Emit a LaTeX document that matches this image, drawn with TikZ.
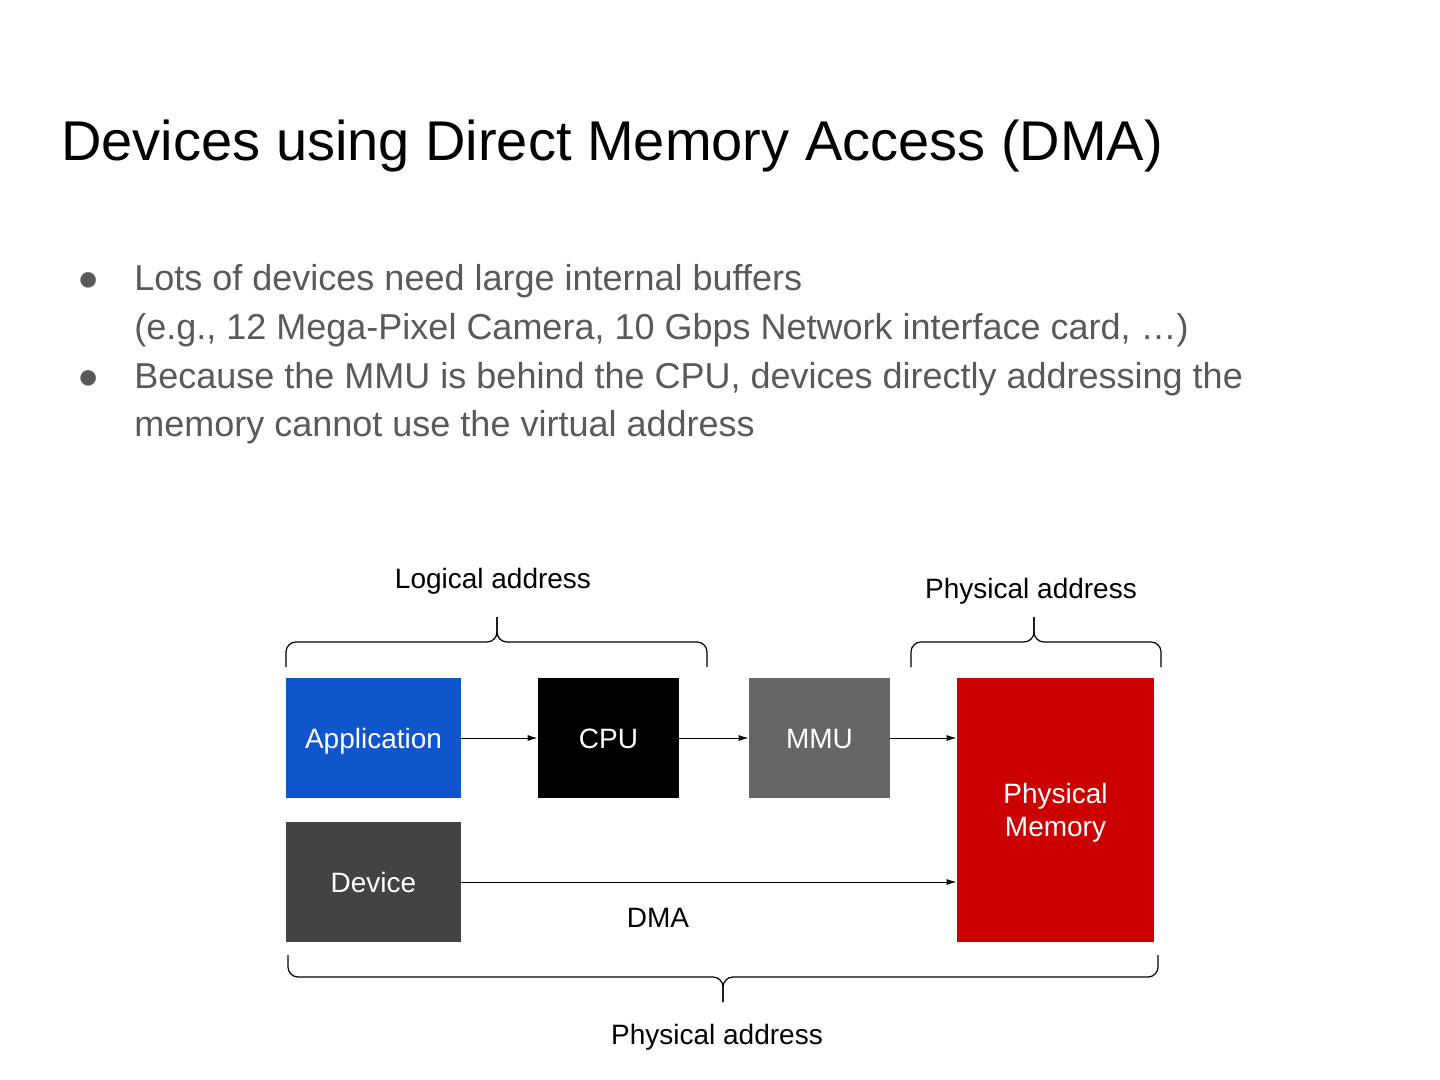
\documentclass[tikz,border=0pt]{standalone}
\usepackage{fontspec}
\setmainfont{Liberation Sans}
\usetikzlibrary{arrows.meta}
\definecolor{appblue}{HTML}{1155CC}
\definecolor{mmugray}{HTML}{666666}
\definecolor{devgray}{HTML}{434343}
\definecolor{memred}{HTML}{CC0000}
\definecolor{bodygray}{HTML}{595959}
\begin{document}
\begin{tikzpicture}[x=0.5pt,y=-0.5pt,
    box/.style={inner sep=0pt, text=white, font=\fontsize{14}{16.5}\selectfont, minimum height=60pt, align=center, text height=12.6pt, text depth=2.6pt},
    lbl/.style={inner sep=0pt, anchor=base, font=\fontsize{14}{16.5}\selectfont},
    body/.style={inner sep=0pt, anchor=base west, text=bodygray, font=\fontsize{18}{22}\selectfont},
    link/.style={-{Latex[length=5pt,width=3pt]}, line width=0.5pt},
    brc/.style={rounded corners=5pt, line width=0.6pt}]
                \useasboundingbox (0,0) rectangle (1440,1080);

                % タイトル
                \node[inner sep=0pt, anchor=base west, font=\fontsize{28}{34}\selectfont] at (61,161) (title) {Devices using Direct Memory Access (DMA)};

                % 箇条書き
                \node[body] at (77,291) (b1) {●};
                \node[body] at (134,291) (l1) {Lots of devices need large internal buffers};
                \node[body] at (134,340) (l2) {(e.g., 12 Mega-Pixel Camera, 10 Gbps Network interface card, …)};
                \node[body] at (77,389) (b2) {●};
                \node[body] at (134,389) (l3) {Because the MMU is behind the CPU, devices directly addressing the};
                \node[body] at (134,437) (l4) {memory cannot use the virtual address};

                % ブロック
                \node[box, fill=appblue, minimum width=87.5pt] at (373.5,738) (app) {Application};
                \node[box, fill=black, minimum width=70.5pt] at (608.5,738) (cpu) {CPU};
                \node[box, fill=mmugray, minimum width=70.5pt] at (819.5,738) (mmu) {MMU};
                \node[box, fill=devgray, minimum width=87.5pt] at (373.5,882) (dev) {Device};
                \node[box, fill=memred, minimum width=98.5pt, minimum height=132pt, text height=, text depth=0pt] at (1055.5,810) (mem) {Physical\\Memory};

                % 矢印
                \draw[link] (app) -- (cpu);
                \draw[link] (cpu) -- (mmu);
                \draw[link] (mmu.east) -- (mmu.east -| mem.west);
                \draw[link] (dev.east) -- (dev.east -| mem.west);
                \node[lbl] at (658,927) (dma) {DMA};

                % 括弧
                \coordinate (la) at (286,667);
                \coordinate (lb) at (707,667);
                \coordinate (lt) at (497,617);
                \coordinate (pa) at (911,667);
                \coordinate (pb) at (1161,667);
                \coordinate (pt) at (1034,617);
                \coordinate (qa) at (288,955);
                \coordinate (qb) at (1158,955);
                \coordinate (qt) at (723,1002);
                \draw[brc] (la) |- ([yshift=-12.5pt]lt) -- (lt);
                \draw[brc] (lb) |- ([yshift=-12.5pt]lt) -- (lt);
                \draw[brc] (pa) |- ([yshift=-12.5pt]pt) -- (pt);
                \draw[brc] (pb) |- ([yshift=-12.5pt]pt) -- (pt);
                \draw[brc] (qa) |- ([yshift=12.5pt]qt) -- (qt);
                \draw[brc] (qb) |- ([yshift=12.5pt]qt) -- (qt);

                \node[lbl] at (493,588) (logi) {Logical address};
                \node[lbl] at (1031,598) (phys1) {Physical address};
                \node[lbl] at (717,1044) (phys2) {Physical address};
\end{tikzpicture}
\end{document}
